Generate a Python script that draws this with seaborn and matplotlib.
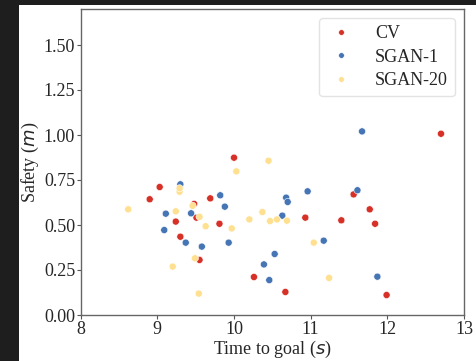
import matplotlib
matplotlib.use("Agg")
import matplotlib.pyplot as plt
from matplotlib.patches import Rectangle
import seaborn as sns
import pandas as pd

cv_x = [10.00, 9.03, 8.90, 9.48, 9.69, 9.24, 9.51, 9.30, 9.55, 9.81, 10.26, 10.67, 10.93, 11.40, 11.56, 11.77, 11.84, 11.99, 12.70]
cv_y = [0.874, 0.711, 0.643, 0.617, 0.648, 0.519, 0.541, 0.435, 0.306, 0.507, 0.211, 0.128, 0.541, 0.526, 0.670, 0.587, 0.507, 0.111, 1.007]

s1_x = [9.30, 9.11, 9.09, 9.44, 9.37, 9.58, 9.82, 9.88, 9.93, 10.39, 10.46, 10.53, 10.63, 10.68, 10.70, 10.96, 11.17, 11.61, 11.87, 11.67]
s1_y = [0.726, 0.563, 0.472, 0.565, 0.402, 0.380, 0.665, 0.602, 0.402, 0.281, 0.194, 0.339, 0.552, 0.652, 0.628, 0.687, 0.413, 0.693, 0.213, 1.020]

s20_x = [8.62, 9.29, 9.29, 9.24, 9.46, 9.55, 9.63, 9.97, 10.03, 10.20, 10.37, 10.45, 10.47, 10.56, 10.69, 9.20, 9.49, 9.54, 11.04, 11.24]
s20_y = [0.587, 0.685, 0.704, 0.576, 0.607, 0.546, 0.493, 0.481, 0.798, 0.531, 0.572, 0.857, 0.522, 0.531, 0.524, 0.269, 0.315, 0.119, 0.402, 0.206]

labels = ["CV", "SGAN-1", "SGAN-20"]
colors = ["#d73027", "#4575b4", "#fee090"]

df = pd.concat([
    pd.DataFrame({"x": cv_x, "y": cv_y, "method": labels[0]}),
    pd.DataFrame({"x": s1_x, "y": s1_y, "method": labels[1]}),
    pd.DataFrame({"x": s20_x, "y": s20_y, "method": labels[2]}),
])

sns.set_style("ticks")
plt.rcParams["font.family"] = ["Liberation Serif", "DejaVu Serif"]
plt.rcParams["mathtext.fontset"] = "dejavusans"

W, H = 476, 361
fig = plt.figure(figsize=(W / 100, H / 100), dpi=100, facecolor="#1e1e1e")
fig.patches.append(Rectangle((19 / W, 0), 1 - 19 / W, 1 - 5 / H, transform=fig.transFigure,
                             facecolor="white", edgecolor="none", zorder=-10))
ax = fig.add_axes([80.7 / W, 1 - 315 / H, (464 - 80.7) / W, (315 - 9) / H])

sns.scatterplot(data=df, x="x", y="y", hue="method", palette=colors, hue_order=labels,
                s=26, edgecolor="white", linewidth=0.4, ax=ax)

ax.set_xlim(8, 13)
ax.set_ylim(0, 1.7)
ax.set_xticks([8, 9, 10, 11, 12, 13])
ax.set_yticks([0, 0.25, 0.5, 0.75, 1.0, 1.25, 1.5])
ax.set_yticklabels(["0.00", "0.25", "0.50", "0.75", "1.00", "1.25", "1.50"])
ax.tick_params(labelsize=13, length=3, color="#555555", pad=1)
for sp in ax.spines.values():
    sp.set_color("#666666")
    sp.set_linewidth(1.0)
ax.set_xlabel("Time to goal ($s$)", fontsize=13, labelpad=1)
ax.set_ylabel("Safety ($m$)", fontsize=13, labelpad=2)

leg = ax.legend(loc="upper right", fontsize=13, frameon=True, markerscale=0.8,
                labelspacing=0.35, handlelength=1.6, handletextpad=1.1,
                borderaxespad=0.5)
leg.get_frame().set_edgecolor("#dddddd")

fig.savefig("out.png", dpi=100, facecolor=fig.get_facecolor())
